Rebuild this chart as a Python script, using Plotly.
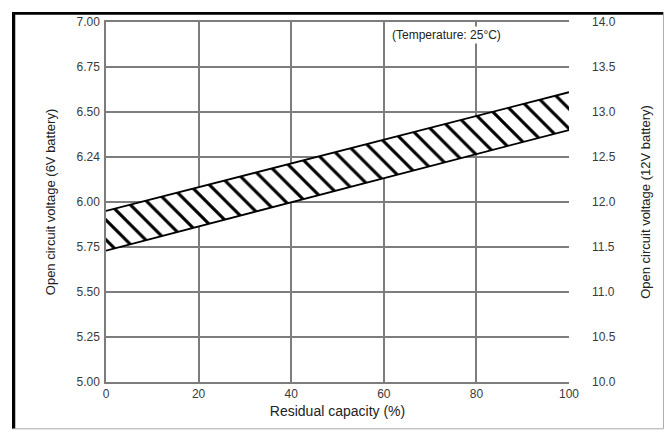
import plotly.graph_objects as go

capacity = [0, 100]
upper_6v = [5.95, 6.61]
lower_6v = [5.73, 6.40]

left_tickvals = [5.00, 5.25, 5.50, 5.75, 6.00, 6.25, 6.50, 6.75, 7.00]
left_ticktext = ["5.00", "5.25", "5.50", "5.75", "6.00", "6.24", "6.50", "6.75", "7.00"]
right_tickvals = [10.0, 10.5, 11.0, 11.5, 12.0, 12.5, 13.0, 13.5, 14.0]
right_ticktext = ["10.0", "10.5", "11.0", "11.5", "12.0", "12.5", "13.0", "13.5", "14.0"]
x_tickvals = [0, 20, 40, 60, 80, 100]

font = "Liberation Sans, Arial, sans-serif"
grid = "#7d7d7d"
tickcol = "#3a3a3a"

fig = go.Figure()
fig.add_trace(go.Scatter(x=capacity, y=upper_6v, mode="lines",
                         line=dict(color="black", width=1.8), showlegend=False))
fig.add_trace(go.Scatter(x=capacity, y=lower_6v, mode="lines",
                         line=dict(color="black", width=1.8), fill="tonexty",
                         fillcolor="white",
                         fillpattern=dict(shape="\\", fgcolor="#000000", fgopacity=1,
                                          bgcolor="white", size=14, solidity=0.22),
                         showlegend=False))
# invisible trace for right axis
fig.add_trace(go.Scatter(x=[0], y=[10], yaxis="y2", mode="markers",
                         marker=dict(opacity=0), showlegend=False, hoverinfo="skip"))

fig.update_layout(
    width=664, height=432,
    margin=dict(l=106, r=95, t=22, b=50),
    paper_bgcolor="white", plot_bgcolor="white",
    font=dict(family=font, color="#333", size=12),
    xaxis=dict(range=[0, 100], tickvals=x_tickvals, showgrid=True, gridcolor=grid,
               gridwidth=1.5, showline=True, linecolor=grid, linewidth=1.5, mirror=True,
               zeroline=False, ticks="", tickfont=dict(size=12, color=tickcol),
               title=dict(text="Residual capacity (%)", font=dict(size=14, color="#222"),
                          standoff=6)),
    yaxis=dict(range=[5, 7], tickvals=left_tickvals, ticktext=left_ticktext,
               showgrid=True, gridcolor=grid, gridwidth=1.5, showline=True,
               linecolor=grid, linewidth=1.5, zeroline=False, ticks="",
               ticklabelstandoff=2,
               tickfont=dict(size=12, color=tickcol),
               title=dict(text="Open circuit voltage (6V battery)",
                          font=dict(size=13, color="#222"), standoff=18)),
    yaxis2=dict(range=[10, 14], tickvals=right_tickvals, ticktext=right_ticktext,
                overlaying="y", side="right", showgrid=False, zeroline=False,
                showline=False, ticks="", ticklabelstandoff=22,
                tickfont=dict(size=12, color=tickcol),
                title=dict(text="Open circuit voltage (12V battery)",
                           font=dict(size=13, color="#222"), standoff=26)),
    annotations=[dict(x=73.6, y=6.928, xref="x", yref="y", text="(Temperature: 25°C)",
                      showarrow=False, font=dict(size=12, color="#222"),
                      bgcolor="white")],
    shapes=[
        dict(type="rect", xref="paper", yref="paper", x0=-0.203, x1=-0.196, y0=-0.13, y1=1.028,
             line=dict(width=0), fillcolor="black"),
        dict(type="rect", xref="paper", yref="paper", x0=-0.203, x1=1.204, y0=1.02, y1=1.028,
             line=dict(width=0), fillcolor="black"),
        dict(type="line", xref="paper", yref="paper", x0=1.204, x1=1.204, y0=-0.13, y1=1.028,
             line=dict(color="#aaa", width=1)),
        dict(type="line", xref="paper", yref="paper", x0=-0.2, x1=1.204, y0=-0.13, y1=-0.13,
             line=dict(color="#aaa", width=1)),
    ],
)

fig.write_html("out.html")
